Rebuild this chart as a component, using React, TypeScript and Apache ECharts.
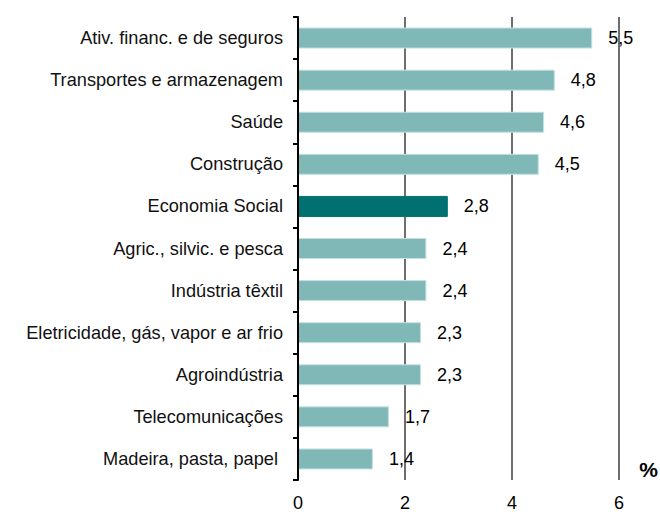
import React, { useEffect, useRef } from "react";
import * as echarts from "echarts";

const categories = [
  "Ativ. financ. e de seguros",
  "Transportes e armazenagem",
  "Saúde",
  "Construção",
  "Economia Social",
  "Agric., silvic. e pesca",
  "Indústria têxtil",
  "Eletricidade, gás, vapor e ar frio",
  "Agroindústria",
  "Telecomunicações",
  "Madeira, pasta, papel ",
];
const values = [5.5, 4.8, 4.6, 4.5, 2.8, 2.4, 2.4, 2.3, 2.3, 1.7, 1.4];
const highlight = "Economia Social";
const xTicks = [0, 2, 4, 6];

export default function App() {
  const ref = useRef<HTMLDivElement>(null);
  useEffect(() => {
    if (!ref.current) return;
    const chart = echarts.init(ref.current, null, { renderer: "svg" });
    const font = "Liberation Sans, Arial, sans-serif";
    chart.setOption({
      animation: false,
      grid: { left: 298, right: 41, top: 17, bottom: 29, containLabel: false },
      xAxis: {
        type: "value",
        min: xTicks[0],
        max: xTicks[xTicks.length - 1],
        interval: 2,
        axisLine: { show: false },
        axisTick: { show: false },
        splitLine: { show: true, lineStyle: { color: "#6e6e6e", width: 2 } },
        axisLabel: {
          color: "#000",
          fontSize: 18,
          fontFamily: font,
          margin: 14,
          formatter: (v: number) => String(v),
        },
      },
      yAxis: {
        type: "category",
        inverse: true,
        data: categories,
        axisLine: { show: true, lineStyle: { color: "#000", width: 2 } },
        axisTick: { show: true, length: 5, lineStyle: { color: "#000", width: 2 } },
        axisLabel: { color: "#111", fontSize: 18.2, fontFamily: font, margin: 15 },
        splitLine: { show: false },
        z: 5,
      },
      series: [
        {
          type: "bar",
          barWidth: 21,
          data: values.map((v, i) => ({
            value: v,
            itemStyle: {
              color: categories[i] === highlight ? "#007070" : "#80B8B8",
              borderColor: categories[i] === highlight ? "#007070" : "#C6E0E0",
              borderWidth: 1,
            },
          })),
          label: {
            show: true,
            position: "right",
            distance: 16,
            color: "#000",
            fontSize: 18,
            fontFamily: font,
            formatter: (p: any) => String(p.value).replace(".", ","),
          },
        },
      ],
      graphic: [
        {
          type: "text",
          right: 2,
          top: 459,
          style: { text: "%", fontSize: 21, fontWeight: "bold", fontFamily: font, fill: "#000" },
        },
      ],
    });
    return () => chart.dispose();
  }, []);
  return <div ref={ref} style={{ width: 660, height: 512, position: "absolute", left: 0, top: 0 }} />;
}
